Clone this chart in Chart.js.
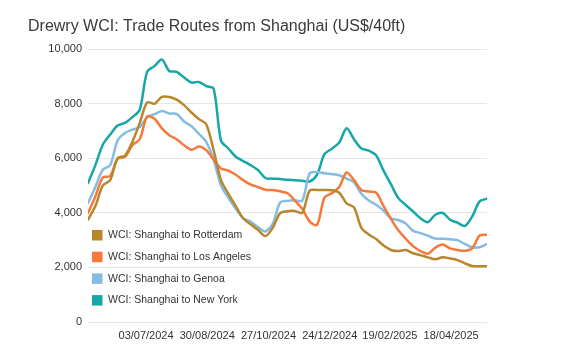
<!DOCTYPE html>
<html>
<head>
<meta charset="utf-8">
<script src="https://cdn.jsdelivr.net/npm/chart.js@4/dist/chart.umd.min.js"></script>
<style>
html,body{margin:0;padding:0;background:#ffffff;}
#wrap{width:564px;height:357px;position:relative;}
</style>
</head>
<body>
<div id="wrap"><canvas id="c"></canvas></div>
<script>
// Weekly WCI assessment dates (categories)
const weekDates = [
  "09/05/2024","16/05/2024","23/05/2024","30/05/2024",
  "06/06/2024","13/06/2024","20/06/2024","27/06/2024",
  "04/07/2024","11/07/2024","18/07/2024","25/07/2024",
  "01/08/2024","08/08/2024","15/08/2024","22/08/2024","29/08/2024",
  "05/09/2024","12/09/2024","19/09/2024","26/09/2024",
  "03/10/2024","10/10/2024","17/10/2024","24/10/2024","31/10/2024",
  "07/11/2024","14/11/2024","21/11/2024","28/11/2024",
  "05/12/2024","12/12/2024","19/12/2024","26/12/2024",
  "02/01/2025","09/01/2025","16/01/2025","23/01/2025","30/01/2025",
  "06/02/2025","13/02/2025","20/02/2025","27/02/2025",
  "06/03/2025","13/03/2025","20/03/2025","27/03/2025",
  "03/04/2025","10/04/2025","17/04/2025","24/04/2025",
  "01/05/2025","08/05/2025","15/05/2025","22/05/2025"
];

const seriesNames = [
  "WCI: Shanghai to Rotterdam",
  "WCI: Shanghai to Los Angeles",
  "WCI: Shanghai to Genoa",
  "WCI: Shanghai to New York"
];

const rotterdam = [
  3750,4250,5000,5200,6000,6100,6600,7300,8050,8000,
  8250,8250,8150,7950,7680,7440,7250,6300,5200,4700,
  4250,3800,3580,3380,3150,3450,3990,4060,4070,4000,
  4820,4840,4840,4830,4740,4350,4200,3450,3210,3040,
  2800,2640,2600,2640,2520,2450,2370,2300,2370,2330,
  2270,2150,2050,2045,2040
];

const losAngeles = [
  4000,4600,5300,5350,5980,6050,6480,6700,7530,7450,
  7100,6850,6700,6480,6310,6430,6300,5950,5630,5550,
  5400,5200,5040,4950,4850,4840,4790,4720,4450,4150,
  3680,3560,4560,4720,4950,5480,5200,4840,4780,4740,
  4250,3780,3360,3050,2780,2600,2500,2720,2840,2700,
  2640,2610,2700,3170,3200
];

const genoa = [
  4360,4950,5580,5750,6650,6930,7050,7150,7500,7620,
  7730,7640,7630,7350,7180,6900,6600,5950,5000,4550,
  4150,3800,3680,3480,3320,3600,4380,4440,4460,4450,
  5450,5500,5450,5420,5380,5260,5120,4700,4450,4300,
  4080,3800,3740,3610,3340,3260,3160,3060,3050,3030,
  3000,2860,2740,2740,2860
];

const newYork = [
  5090,5750,6500,6870,7200,7300,7510,7780,9170,9380,
  9620,9200,9170,8960,8775,8800,8650,8550,6650,6360,
  6060,5900,5750,5570,5280,5255,5240,5215,5200,5180,
  5150,5400,6150,6350,6580,7100,6700,6360,6280,6100,
  5550,5050,4540,4290,4050,3800,3660,3930,4000,3750,
  3640,3520,3870,4420,4520
];

const xTickLabels = ["03/07/2024","30/08/2024","27/10/2024","24/12/2024","19/02/2025","18/04/2025"];
const yTickValues = [0,2000,4000,6000,8000,10000];

const colors = ["#B8872C","#F47A3C","#85BCE3","#17A7A7"];

function dayNum(s){
  const p = s.split('/').map(Number);
  return Date.UTC(p[2], p[1]-1, p[0]) / 86400000;
}
const base = dayNum(weekDates[0]);
const xs = weekDates.map(d => dayNum(d) - base);

function toPoints(vals){ return vals.map((v,i)=>({x: xs[i], y: v})); }

const allSeries = [rotterdam, losAngeles, genoa, newYork];
const datasets = allSeries.map((vals,i)=>({
  label: seriesNames[i],
  data: toPoints(vals),
  borderColor: colors[i],
  backgroundColor: colors[i],
  borderWidth: 2.5,
  pointRadius: 0,
  pointHoverRadius: 0,
  tension: 0.3,
  fill: false,
  borderJoinStyle: 'round',
  borderCapStyle: 'round'
}));

const FONT = '"Liberation Sans", Arial, sans-serif';

const insideLegend = {
  id: 'insideLegend',
  afterDatasetsDraw(chart){
    const ctx = chart.ctx;
    const area = chart.chartArea;
    ctx.save();
    ctx.font = '10.5px ' + FONT;
    ctx.textBaseline = 'middle';
    ctx.textAlign = 'left';
    chart.data.datasets.forEach((ds,i)=>{
      const cy = area.bottom - 87 + i * 21.7;
      ctx.fillStyle = ds.borderColor;
      ctx.fillRect(area.left + 4, cy - 5, 10.5, 10.5);
      ctx.fillStyle = '#333333';
      ctx.fillText(ds.label, area.left + 20, cy + 0.5);
    });
    ctx.restore();
  }
};

new Chart(document.getElementById('c'), {
  type: 'line',
  data: { datasets },
  plugins: [insideLegend],
  options: {
    responsive: true,
    maintainAspectRatio: false,
    animation: false,
    events: [],
    layout: { padding: { left: 28, right: 77, top: 0, bottom: 13 } },
    plugins: {
      legend: { display: false },
      tooltip: { enabled: false },
      title: {
        display: true,
        text: 'Drewry WCI: Trade Routes from Shanghai (US$/40ft)',
        align: 'start',
        color: '#3a3a3a',
        font: { family: FONT, size: 16, weight: 'normal' },
        padding: { top: 17, bottom: 13 }
      }
    },
    scales: {
      x: {
        type: 'linear',
        min: xs[0],
        max: xs[xs.length-1],
        grid: { display: false, drawTicks: false },
        border: { display: false },
        afterBuildTicks: (scale) => {
          scale.ticks = xTickLabels.map(t => ({ value: dayNum(t) - base }));
        },
        afterFit: (scale) => { scale.height = 22; },
        ticks: {
          autoSkip: false,
          maxRotation: 0,
          minRotation: 0,
          padding: 7,
          color: '#333333',
          font: { family: FONT, size: 11 },
          callback: (value, index) => xTickLabels[index]
        }
      },
      y: {
        min: 0,
        max: 10000,
        grid: { color: '#e6e6e6', lineWidth: 1, drawTicks: false },
        border: { display: false },
        afterBuildTicks: (scale) => {
          scale.ticks = yTickValues.map(v => ({ value: v }));
        },
        afterFit: (scale) => { scale.width = 60; },
        ticks: {
          padding: 6,
          color: '#333333',
          font: { family: FONT, size: 11 },
          callback: (v) => Number(v).toLocaleString('en-US')
        }
      }
    }
  }
});
</script>
</body>
</html>
